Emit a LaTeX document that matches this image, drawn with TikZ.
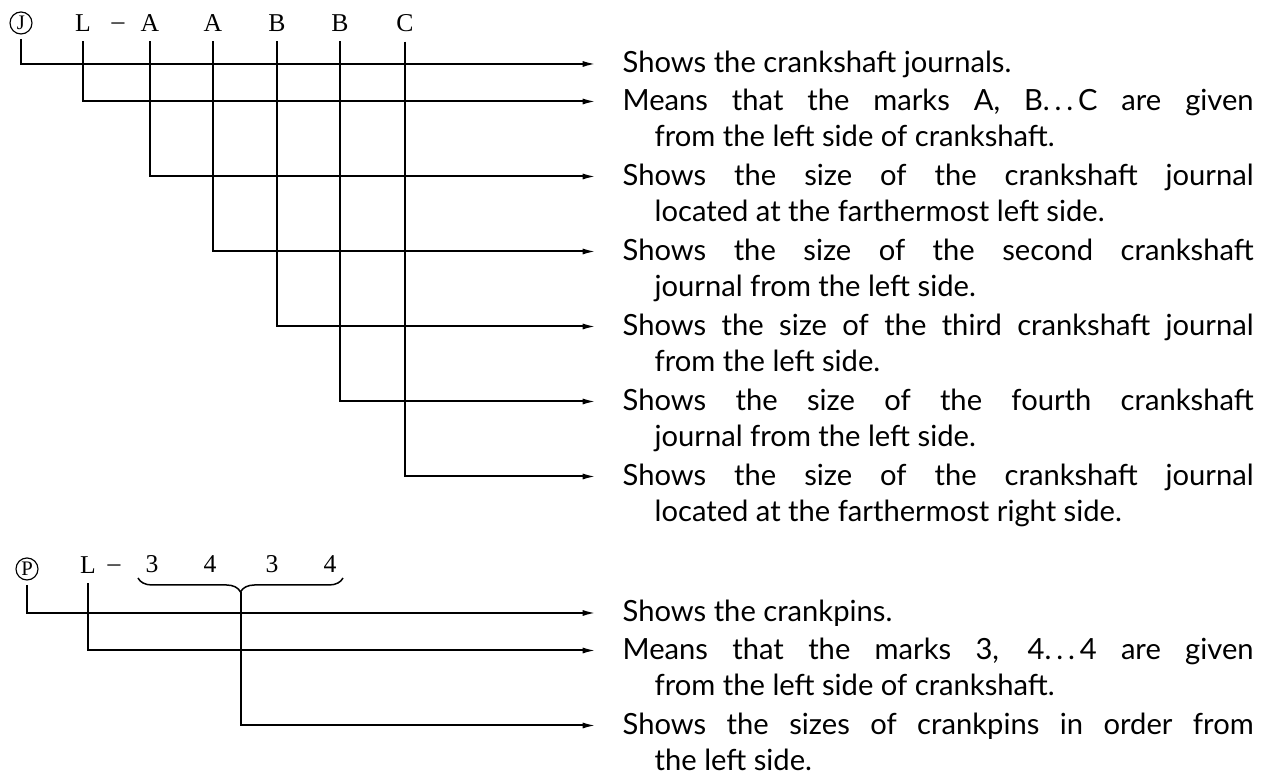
\documentclass[tikz,border=0pt]{standalone}
\usepackage{fontspec}
\setmainfont{Lato}
\newfontfamily\markfont[Ligatures=TeX]{Liberation Serif}
\usetikzlibrary{arrows.meta,decorations.pathreplacing}
\tikzset{
	desc/.style={anchor=base west, inner sep=0pt, text width=189.3pt, align=justify,
		font=\fontsize{8.75}{10.9}\selectfont,
		execute at begin node={\hangindent=9.6pt\hangafter=1\relax}},
	code/.style={font=\markfont\fontsize{7.7}{9}\selectfont, inner xsep=0pt, inner ysep=2.8pt},
	circled/.style={draw, circle, line width=0.35pt, inner sep=0.3pt, minimum size=6.6pt,
		outer sep=1.5pt, font=\markfont\fontsize{6.2}{7}\selectfont},
	lead/.style={-{Latex[length=4pt,width=1.8pt]}, line width=0.6pt}
}
\begin{document}
\begin{tikzpicture}[x=0.3pt, y=-0.3pt]
		\useasboundingbox (0,0) rectangle (1272,774);

		% Journal code
		\node[circled] (cJ) at (21,23) {J};
		\node[code] (jL) at (83,23) {L};
		\node[code] (jdash) at (118,26.5) {--};
		\node[code] (jA1) at (150,23) {A};
		\node[code] (jA2) at (213,23) {A};
		\node[code] (jB1) at (277,23) {B};
		\node[code] (jB2) at (340,23) {B};
		\node[code] (jC) at (405,23) {C};

		% Arrow ends
		\coordinate (t1) at (596,64);
		\coordinate (t2) at (596,101.5);
		\coordinate (t3) at (596,176.5);
		\coordinate (t4) at (596,251.5);
		\coordinate (t5) at (596,326.5);
		\coordinate (t6) at (596,401.5);
		\coordinate (t7) at (596,476.5);

		\draw[lead] (cJ) |- (t1);
		\draw[lead] (jL) |- (t2);
		\draw[lead] (jA1) |- (t3);
		\draw[lead] (jA2) |- (t4);
		\draw[lead] (jB1) |- (t5);
		\draw[lead] (jB2) |- (t6);
		\draw[lead] (jC) |- (t7);

		\node[desc] (d1) at (622,73) {Shows the crankshaft journals.};
		\node[desc] (d2) at (622,110.5) {Means that the marks A, B.\,.\,.\,C are given\linebreak from the left side of crankshaft.};
		\node[desc] (d3) at (622,185.5) {Shows the size of the crankshaft journal\linebreak located at the farthermost left side.};
		\node[desc] (d4) at (622,260.5) {Shows the size of the second crankshaft\linebreak journal from the left side.};
		\node[desc] (d5) at (622,335.5) {Shows the size of the third crankshaft journal\linebreak from the left side.};
		\node[desc] (d6) at (622,410.5) {Shows the size of the fourth crankshaft\linebreak journal from the left side.};
		\node[desc] (d7) at (622,485.5) {Shows the size of the crankshaft journal\linebreak located at the farthermost right side.};

		% Crankpin code
		\node[circled] (cP) at (27,569) {P};
		\node[code] (pL) at (88,565) {L};
		\node[code] (pdash) at (114,568.5) {--};
		\node[code] (p1) at (152,564) {3};
		\node[code] (p2) at (210,564) {4};
		\node[code] (p3) at (272,564) {3};
		\node[code] (p4) at (330,564) {4};
		\coordinate (brL) at (138,578);
		\coordinate (brR) at (343,578);
		\draw[line width=0.45pt, decorate, decoration={brace, mirror, amplitude=4.2pt}] (brL) -- (brR);
		\coordinate (brTip) at (240.5,592);

		\coordinate (t8) at (596,613);
		\coordinate (t9) at (596,650.5);
		\coordinate (t10) at (596,725.5);

		\draw[lead] (cP) |- (t8);
		\draw[lead] (pL) |- (t9);
		\draw[lead] (brTip) |- (t10);

		\node[desc] (d8) at (622,622) {Shows the crankpins.};
		\node[desc] (d9) at (622,659.5) {Means that the marks 3, 4.\,.\,.\,4 are given\linebreak from the left side of crankshaft.};
		\node[desc] (d10) at (622,734.5) {Shows the sizes of crankpins in order from\linebreak the left side.};

	\end{tikzpicture}
\end{document}
